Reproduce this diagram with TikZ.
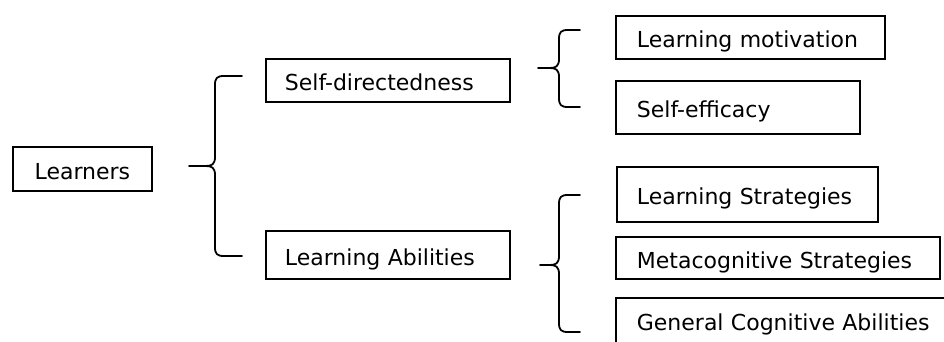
\documentclass[tikz,border=0pt]{standalone}
\usepackage{fontspec}
\setmainfont{DejaVu Sans}
\newcommand\mybrace[6]{% tipx, tipy, vx, topy, boty, endx
  \draw[bracestyle] (#6,#4) -- (#3+9,#4) .. controls (#3+2,#4) and (#3,#4+2) .. (#3,#4+9)
    -- (#3,#2-9) .. controls (#3,#2-2) and (#3-3,#2) .. (#3-9,#2) -- (#1,#2);
  \draw[bracestyle] (#6,#5) -- (#3+9,#5) .. controls (#3+2,#5) and (#3,#5-2) .. (#3,#5-9)
    -- (#3,#2+9) .. controls (#3,#2+2) and (#3-3,#2) .. (#3-9,#2);
}
\tikzset{
  box/.style={draw, line width=1.8pt, anchor=north west, inner ysep=0pt,
    inner xsep=20pt, align=left, text height=21pt, text depth=0pt,
    font=\fontsize{22}{26}\selectfont},
  bracestyle/.style={line width=1.8pt, line cap=round, line join=round}
}
\begin{document}
\begin{tikzpicture}[x=1pt,y=-1pt]
\useasboundingbox (0,0) rectangle (944,342);
\clip (0,0) rectangle (944,342);
\node[box, align=center, inner xsep=0pt, text width=139pt, minimum height=44pt] (learners) at (12,146) {Learners};
\node[box, inner xsep=19pt, text width=206pt, minimum height=43pt] (selfdir) at (265,58) {Self-directedness};
\node[box, inner xsep=19pt, text width=206pt, minimum height=48pt] (learnab) at (265,230) {Learning Abilities};
\node[box, inner xsep=21pt, text width=227pt, minimum height=43pt] (motiv) at (615,15) {Learning motivation};
\node[box, inner xsep=21pt, text width=202pt, minimum height=53pt] (effic) at (615,80) {Self-efficacy};
\node[box, inner xsep=20pt, text width=221pt, minimum height=55pt] (strat) at (616,166) {Learning Strategies};
\node[box, inner xsep=21pt, text width=282pt, minimum height=42pt] (meta) at (615,236) {Metacognitive Strategies};
\node[box, inner xsep=21pt, text width=320pt, minimum height=60pt, text depth=15pt] (general) at (615,297) {General Cognitive Abilities};
\mybrace{189}{166}{215}{76}{256}{242}
\mybrace{538}{68}{559}{30}{107}{580}
\mybrace{540}{265}{559}{195}{332}{580}
\end{tikzpicture}
\end{document}
